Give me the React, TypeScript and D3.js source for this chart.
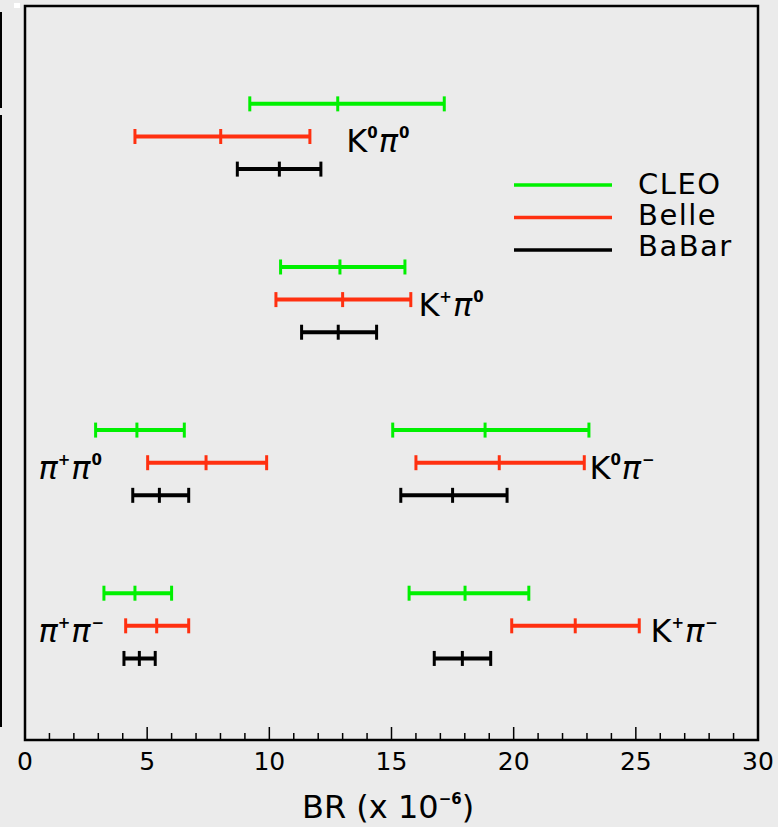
import * as d3 from "d3";

// experiments and colours
const experiments = ["CLEO", "Belle", "BaBar"];
const colors = ["#00f000", "#ff3010", "#000000"];
const rowOffset = [0.2, 0, -0.2];

// decay channels (label parts)
const labelBase1 = ["K", "K", "π", "K", "π", "K"];
const labelSup1 = ["0", "+", "+", "0", "+", "+"];
const labelBase2 = ["π", "π", "π", "π", "π", "π"];
const labelSup2 = ["0", "0", "0", "−", "−", "−"];
const rows = [3.7, 2.7, 1.7, 1.7, 0.7, 0.7];
const labelX = [13.15, 16.1, 0.55, 23.1, 0.55, 25.6];

// BR values (x 10^-6): low, central, high
const cleoLow = [9.2, 10.46, 2.89, 15.05, 3.23, 15.72];
const cleoCentral = [12.8, 12.89, 4.58, 18.83, 4.5, 18.01];
const cleoHigh = [17.16, 15.55, 6.52, 23.08, 6.0, 20.62];
const belleLow = [4.5, 10.27, 5.02, 16.0, 4.12, 19.92];
const belleCentral = [8.01, 13.0, 7.41, 19.41, 5.39, 22.52];
const belleHigh = [11.66, 15.79, 9.89, 22.89, 6.7, 25.14];
const babarLow = [8.69, 11.32, 4.41, 15.38, 4.05, 16.75];
const babarCentral = [10.41, 12.82, 5.5, 17.5, 4.68, 17.9];
const babarHigh = [12.11, 14.39, 6.7, 19.73, 5.33, 19.06];

const xTicks = d3.range(0, 31, 1);
const xTickLabels = [0, 5, 10, 15, 20, 25, 30];

const W = 778, H = 827;
const margin = { top: 6, right: 20, bottom: 87, left: 25 };
const font = "'DejaVu Sans', Verdana, sans-serif";

export default function App() {
  const x = d3.scaleLinear().domain([0, 30]).range([margin.left, W - margin.right]);
  const y = d3.scaleLinear().domain([0, 4.5]).range([H - margin.bottom, margin.top]);

  const lows = [cleoLow, belleLow, babarLow];
  const mids = [cleoCentral, belleCentral, babarCentral];
  const highs = [cleoHigh, belleHigh, babarHigh];

  const bars: any[] = [];
  experiments.forEach((e, ei) => {
    rows.forEach((r, ci) => {
      bars.push({
        key: e + ci,
        color: colors[ei],
        yy: y(r + rowOffset[ei]),
        lo: x(lows[ei][ci]),
        mid: x(mids[ei][ci]),
        hi: x(highs[ei][ci]),
      });
    });
  });

  const capH = 7.5;
  const y0 = y(0);

  return (
    <svg width={W} height={H} style={{ position: "absolute", left: 0, top: 0, background: "#ebebeb" }}>
      <rect x={0} y={0} width={W} height={H} fill="#ebebeb" />
      {/* stray edge marks */}
      <line x1={1} x2={1} y1={12} y2={108} stroke="#000" strokeWidth={2} />
      <line x1={1} x2={1} y1={115} y2={727} stroke="#000" strokeWidth={2} />
      <rect x={14} y={3} width={6} height={5} fill="#fff" />

      {/* frame */}
      <rect x={x(0)} y={y(4.5)} width={x(30) - x(0)} height={y(0) - y(4.5)} fill="none" stroke="#000" strokeWidth={2.5} />

      {/* x ticks */}
      {xTicks.map((t) => (
        <line key={"t" + t} x1={x(t)} x2={x(t)} y1={y0} y2={y0 - (t % 5 === 0 ? 13 : 7)} stroke="#000" strokeWidth={1.5} />
      ))}
      {xTickLabels.map((t) => (
        <text key={"l" + t} x={x(t)} y={770} textAnchor="middle" fontFamily={font} fontSize={25}>{t}</text>
      ))}
      <text x={302} y={818} fontFamily={font} fontSize={32}>
        BR (x 10<tspan dy={-14} fontSize={15} fontWeight="bold">−6</tspan><tspan dy={14}>)</tspan>
      </text>

      {/* error bars */}
      {bars.map((b) => (
        <g key={b.key} stroke={b.color}>
          <line x1={b.lo} x2={b.hi} y1={b.yy} y2={b.yy} strokeWidth={4} />
          {[b.lo, b.mid, b.hi].map((v, i) => (
            <line key={i} x1={v} x2={v} y1={b.yy - capH} y2={b.yy + capH} strokeWidth={3} />
          ))}
        </g>
      ))}

      {/* channel labels */}
      {rows.map((r, ci) => (
        <text key={"c" + ci} x={x(labelX[ci])} y={y(r) + 16} fontFamily={font} fontSize={32}>
          <tspan fontStyle={labelBase1[ci] === "π" ? "italic" : "normal"}>{labelBase1[ci]}</tspan>
          <tspan dy={-14} fontSize={15} fontWeight="bold">{labelSup1[ci]}</tspan>
          <tspan dx={1} dy={14} fontStyle="italic">{labelBase2[ci]}</tspan>
          <tspan dx={1} dy={-14} fontSize={15} fontWeight="bold">{labelSup2[ci]}</tspan>
        </text>
      ))}

      {/* legend */}
      {experiments.map((e, i) => (
        <g key={e}>
          <line x1={514} x2={612} y1={185 + i * 32.5} y2={185 + i * 32.5} stroke={colors[i]} strokeWidth={3.5} />
          <text x={638} y={194 + i * 31} fontFamily={font} fontSize={29} letterSpacing={1.5}>{e}</text>
        </g>
      ))}
    </svg>
  );
}
